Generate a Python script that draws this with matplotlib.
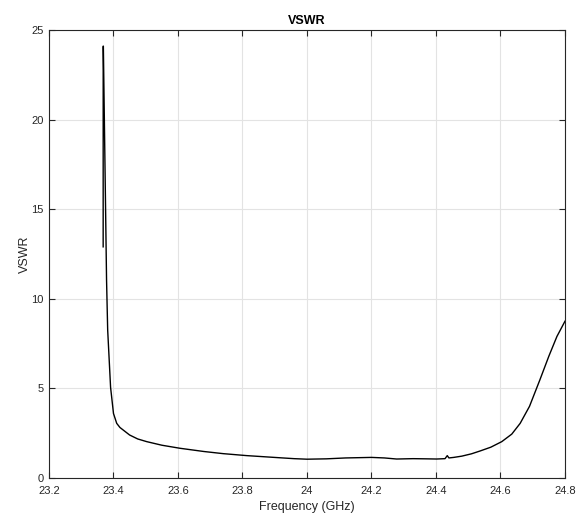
import matplotlib.pyplot as plt
import numpy as np

plt.rcParams['font.family'] = ['Liberation Sans', 'DejaVu Sans']

# Frequency (GHz) and VSWR
freq = [23.3680, 23.3681, 23.3686, 23.3785, 23.382, 23.391, 23.400, 23.410,
        23.420, 23.430, 23.450, 23.475, 23.503, 23.550, 23.606, 23.680,
        23.740, 23.813, 23.916, 23.960, 24.000, 24.060, 24.120, 24.200,
        24.240, 24.278, 24.329, 24.370, 24.402, 24.428, 24.435, 24.440,
        24.455, 24.480, 24.510, 24.537, 24.570, 24.604, 24.635, 24.661,
        24.690, 24.722, 24.750, 24.775, 24.800]
vswr = [12.9, 24.1, 24.1, 11.05, 8.26, 5.06, 3.60, 3.05,
        2.82, 2.68, 2.40, 2.18, 2.03, 1.83, 1.66, 1.48,
        1.36, 1.25, 1.13, 1.08, 1.05, 1.07, 1.12, 1.15,
        1.12, 1.06, 1.08, 1.07, 1.06, 1.08, 1.25, 1.12,
        1.15, 1.22, 1.35, 1.51, 1.72, 2.03, 2.45, 3.05,
        4.00, 5.47, 6.80, 7.90, 8.75]

fig = plt.figure(figsize=(5.79, 5.13), dpi=100)
ax = fig.add_axes([0.0846, 0.0682, 0.8912, 0.8733])

ax.plot(freq, vswr, color='black', linewidth=1.0)

ax.set_xlim(23.2, 24.8)
ax.set_ylim(0, 25)
ax.set_xticks(np.arange(23.2, 24.81, 0.2))
ax.set_xticklabels(['23.2', '23.4', '23.6', '23.8', '24', '24.2', '24.4', '24.6', '24.8'])
ax.set_yticks([0, 5, 10, 15, 20, 25])

ax.grid(True, color='#e3e3e3', linewidth=0.8)
ax.set_axisbelow(True)
ax.tick_params(direction='in', top=True, right=True, length=4, width=0.8,
               labelsize=8, colors='#262626')
ax.tick_params(axis='x', pad=6)
ax.tick_params(axis='y', pad=4)
for s in ax.spines.values():
    s.set_color('#262626')
    s.set_linewidth(0.8)

ax.set_xlabel('Frequency (GHz)', fontsize=9, color='#262626', labelpad=3)
ax.set_ylabel('VSWR', fontsize=9, color='#262626', labelpad=0)
ax.set_title('VSWR', fontsize=9, fontweight='bold', pad=4)

fig.savefig('out.png', dpi=100)
